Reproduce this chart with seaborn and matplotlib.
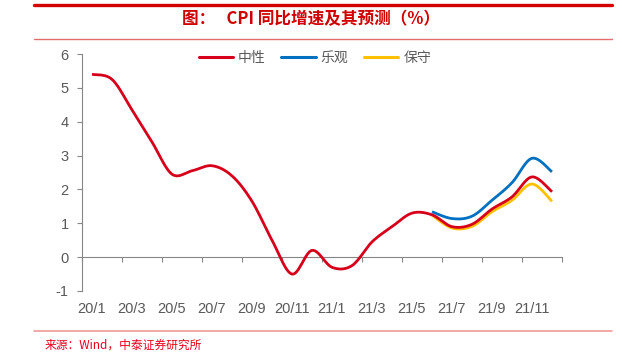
import numpy as np
import pandas as pd
import matplotlib
matplotlib.use('Agg')
import matplotlib.pyplot as plt
from matplotlib.lines import Line2D
import seaborn as sns

# 月份 20/1 ... 21/12
months = [f"{y}/{m}" for y in (20, 21) for m in range(1, 13)]
tick_labels = months[::2]

neutral = [5.4, 5.25, 4.35, 3.4, 2.45, 2.55, 2.7, 2.4, 1.65, 0.5, -0.5, 0.2,
           -0.3, -0.25, 0.45, 0.9, 1.3, 1.25, 0.9, 0.97, 1.42, 1.78, 2.37, 1.93]
optimistic = [1.34, 1.14, 1.21, 1.68, 2.2, 2.92, 2.52]      # from 21/6
conservative = [1.24, 0.86, 0.91, 1.34, 1.68, 2.16, 1.65]   # from 21/6
forecast_start = months.index('21/6')

series_names = ['中性', '乐观', '保守']
series_colors = ['#D7001B', '#0070C0', '#FFC000']

GRAY = '#868686'
TEXT_GRAY = '#595959'


def smooth(values, start, steps=16):
    # excel-like smoothed line: cubic bezier through the points
    pts = np.column_stack([np.arange(len(values)) + start, values]).astype(float)
    out = [pts[0]]
    t = np.linspace(0, 1, steps)[1:, None]
    for i in range(len(pts) - 1):
        p0 = pts[max(i - 1, 0)]
        p1 = pts[i]
        p2 = pts[i + 1]
        p3 = pts[min(i + 2, len(pts) - 1)]
        c1 = p1 + (p2 - p0) / 6
        c2 = p2 - (p3 - p1) / 6
        seg = (1 - t) ** 3 * p1 + 3 * (1 - t) ** 2 * t * c1 + 3 * (1 - t) * t ** 2 * c2 + t ** 3 * p2
        out.extend(seg)
    out = np.array(out)
    return pd.DataFrame({'x': out[:, 0], 'y': out[:, 1]})


sns.set_style('white')
plt.rcParams['font.family'] = ['Noto Sans CJK SC', 'DejaVu Sans']

fig = plt.figure(figsize=(6.22, 3.57), dpi=100)
ax = fig.add_axes([82 / 622, 1 - 291 / 357, 480 / 622, 237 / 357])

curves = [
    (conservative, forecast_start, series_colors[2]),
    (optimistic, forecast_start, series_colors[1]),
    (neutral, 0, series_colors[0]),
]
for values, start, color in curves:
    df = smooth(values, start)
    sns.lineplot(data=df, x='x', y='y', sort=False, estimator=None,
                 color=color, lw=2.0, ax=ax, solid_capstyle='butt')

ax.set_xlim(-0.5, len(months) - 0.5)
ax.set_ylim(-1, 6)
ax.set_xlabel('')
ax.set_ylabel('')

# y axis
ax.set_yticks(range(-1, 7))
ax.set_yticklabels([str(v) for v in range(-1, 7)], family=['Liberation Sans'],
                   fontsize=10.5, color=TEXT_GRAY)
ax.tick_params(axis='y', left=True, direction='out', length=3.5, width=0.8,
               color=GRAY, pad=6)
for side in ('top', 'right', 'bottom'):
    ax.spines[side].set_visible(False)
ax.spines['left'].set_color(GRAY)
ax.spines['left'].set_linewidth(0.8)

# x labels sit low, axis line with tick marks sits at zero
ax.set_xticks(range(0, len(months), 2))
ax.set_xticklabels(tick_labels, family=['Liberation Sans'], fontsize=10.5, color=TEXT_GRAY)
ax.tick_params(axis='x', bottom=True, length=0, pad=8)

zero_axis = ax.secondary_xaxis(1 / 7)
zero_axis.set_xticks(np.arange(-0.5, len(months), 2))
zero_axis.set_xticklabels([])
zero_axis.tick_params(axis='x', bottom=True, direction='out', length=3.5, width=0.8, color=GRAY)
zero_axis.spines['bottom'].set_color(GRAY)
zero_axis.spines['bottom'].set_linewidth(0.8)

handles = [Line2D([], [], color=c, lw=2.2) for c in series_colors]
leg = ax.legend(handles, series_names, ncol=3, frameon=False, loc='center',
                bbox_to_anchor=(0.485, 0.983), fontsize=10, handlelength=2.5,
                handletextpad=0.35, columnspacing=1.1)
for txt in leg.get_texts():
    txt.set_color(TEXT_GRAY)

# header / footer decoration
fig.add_artist(Line2D([34 / 622, 612 / 622], [1 - 5 / 357] * 2, color='#D40000', lw=2.4))
fig.add_artist(Line2D([34 / 622, 612 / 622], [1 - 39 / 357] * 2, color='#E36C6C', lw=1.0))
fig.add_artist(Line2D([34 / 622, 612 / 622], [1 - 331 / 357] * 2, color='#F29A9A', lw=1.2))

fig.text(0.5, 1 - 19.5 / 357, '图：   CPI 同比增速及其预测（%）', ha='center', va='center',
         fontsize=12, fontweight='bold', color='#D00000')
fig.text(45 / 622, 1 - 345 / 357, '来源：Wind，中泰证券研究所', ha='left', va='center',
         fontsize=8.5, color='#E8001C')

fig.savefig('out.png', dpi=100)
